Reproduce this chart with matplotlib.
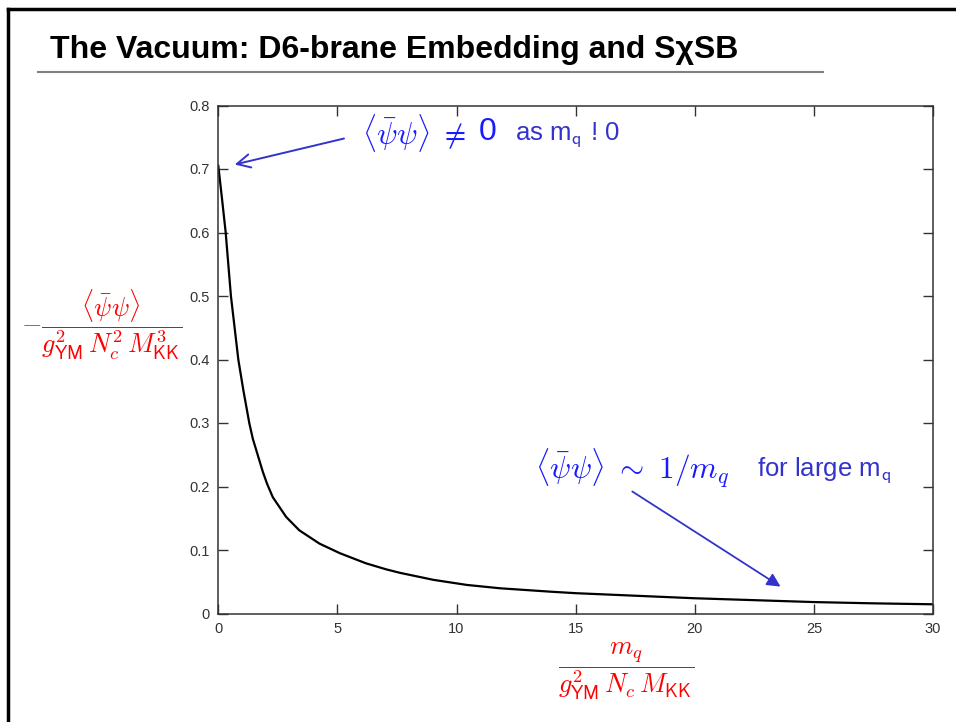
import matplotlib
matplotlib.use('Agg')
import matplotlib.pyplot as plt
from matplotlib.lines import Line2D

plt.rcParams['font.family'] = ['Liberation Sans', 'DejaVu Sans']
plt.rcParams['mathtext.fontset'] = 'cm'

# curve
m_q = [0, 0.15, 0.31, 0.53, 0.84, 1.05, 1.3, 1.45, 1.87, 2.05, 2.29, 2.85, 3.4,
       4.25, 5.1, 6.2, 7.05, 7.63, 9.03, 10.43, 11.83, 13.93, 15, 17.5, 20, 22.5, 25, 27.5, 30]
condensate = [0.705, 0.655, 0.60, 0.50, 0.40, 0.352, 0.30, 0.275, 0.223, 0.204, 0.183, 0.152, 0.131,
              0.110, 0.095, 0.079, 0.0695, 0.064, 0.053, 0.045, 0.0397, 0.0344, 0.032, 0.028, 0.024,
              0.021, 0.018, 0.016, 0.0145]

xticks = [0, 5, 10, 15, 20, 25, 30]
yticks = [0, 0.1, 0.2, 0.3, 0.4, 0.5, 0.6, 0.7, 0.8]

title = 'The Vacuum: D6-brane Embedding and S\u03c7SB'

W, H = 956, 722
fig = plt.figure(figsize=(W / 100, H / 100), dpi=100)

# slide frame and title
fig.add_artist(Line2D([8 / W, 8 / W], [0, 1 - 9 / H], color='black', lw=2.5))
fig.add_artist(Line2D([8 / W, 1], [1 - 9 / H, 1 - 9 / H], color='black', lw=2.5))
fig.add_artist(Line2D([38 / W, 823 / W], [1 - 72 / H, 1 - 72 / H], color='#808080', lw=1.5))
fig.text(50 / W, 1 - 50 / H, title, fontsize=23, fontweight='bold', va='center', ha='left')

ax = fig.add_axes([218.3 / W, 1 - 613.5 / H, (933 - 218.3) / W, (613.5 - 105.5) / H])
ax.plot(m_q, condensate, color='black', lw=1.6)
ax.set_xlim(0, 30)
ax.set_ylim(0, 0.8)
ax.set_xticks(xticks)
ax.set_xticklabels([str(t) for t in xticks])
ax.set_yticks(yticks)
ax.set_yticklabels(['0' if t == 0 else f'{t:.1f}' for t in yticks])
ax.tick_params(direction='in', top=True, right=True, length=7, width=1, colors='#333333',
               labelsize=10.5, pad=6)
for s in ax.spines.values():
    s.set_color('#333333')
    s.set_linewidth(1.1)

# axis labels (red)
fig.text(102 / W, 1 - 325 / H,
         r'$-\dfrac{\langle\bar{\psi}\psi\rangle}{g^2_{\mathsf{YM}}\,N_c^2\,M^3_{\mathsf{KK}}}$',
         color='red', fontsize=19, ha='center', va='center')
fig.text(626 / W, 1 - 671 / H,
         r'$\dfrac{m_q}{g^2_{\mathsf{YM}}\,N_c\,M_{\mathsf{KK}}}$',
         color='red', fontsize=19, ha='center', va='center')

# annotations
blue = '#1a1aff'
blue2 = '#3333cc'
ax.text(6.03, 0.757, r'$\langle\bar{\psi}\psi\rangle\ \neq$', color=blue,
        fontsize=22, va='center', ha='left')
ax.text(10.95, 0.758, '0', color=blue, fontsize=23, va='center', ha='left')
ax.text(12.45, 0.754, r'as m$_\mathsf{q}$ ! 0', color=blue2, fontsize=18.5, va='center', ha='left')
ax.annotate('', xy=(0.575, 0.706), xytext=(5.39, 0.749),
            arrowprops=dict(arrowstyle='->', color=blue2, lw=1.4, mutation_scale=24))

ax.text(13.3, 0.229, r'$\langle\bar{\psi}\psi\rangle\ \sim\ \mathbf{1}/\boldsymbol{m_q}$', color=blue,
        fontsize=22.5, va='center', ha='left')
ax.text(22.62, 0.226, r'for large m$_\mathsf{q}$', color=blue2, fontsize=18.5, va='center', ha='left')
ax.annotate('', xy=(23.7, 0.040), xytext=(17.28, 0.1945),
            arrowprops=dict(arrowstyle='-|>', color=blue2, lw=1.3, mutation_scale=20))

fig.savefig('out.png', dpi=100)
